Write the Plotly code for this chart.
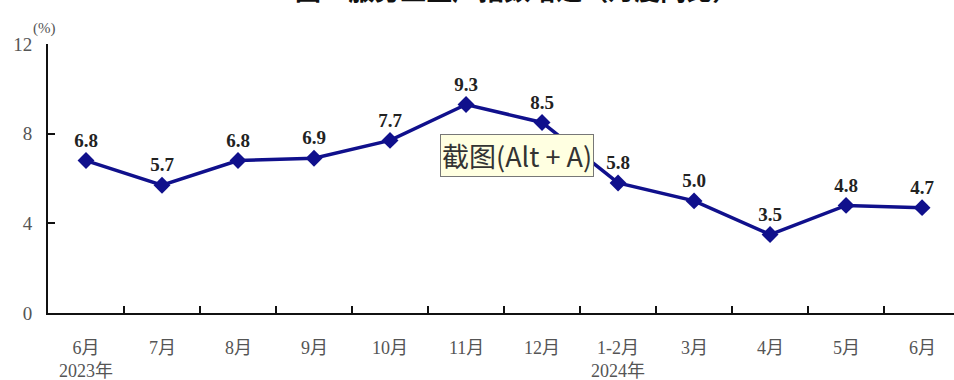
import plotly.graph_objects as go

# Month labels (two-line where a year starts) and YoY growth values (%)
months = ["6月<br>2023年", "7月", "8月", "9月", "10月", "11月", "12月",
          "1-2月<br>2024年", "3月", "4月", "5月", "6月"]
growth = [6.8, 5.7, 6.8, 6.9, 7.7, 9.3, 8.5, 5.8, 5.0, 3.5, 4.8, 4.7]
y_ticks = [0, 4, 8, 12]

W, H = 954, 380
M_L, M_R, M_T, M_B = 48, 0, 44, 67
plot_w = W - M_L - M_R
plot_h = H - M_T - M_B

serif = "Liberation Serif, Noto Sans CJK SC, serif"
navy = "#10108c"
grey = "#555555"

idx = list(range(len(months)))

fig = go.Figure()
fig.add_trace(go.Scatter(
    x=idx, y=growth,
    mode="lines+markers+text",
    line=dict(color=navy, width=3.5),
    marker=dict(symbol="diamond", size=13, color=navy),
    text=[f"<b>{v:.1f}</b>" for v in growth],
    textposition="top center",
    textfont=dict(family=serif, size=19, color="#222222"),
    cliponaxis=False,
    hoverinfo="skip",
))

fig.update_layout(
    width=W, height=H,
    margin=dict(l=M_L, r=M_R, t=M_T, b=M_B),
    paper_bgcolor="white", plot_bgcolor="white",
    showlegend=False,
    xaxis=dict(
        range=[-0.5, 11.42],
        tickmode="array",
        tickvals=[i + 0.5 for i in idx[:-1]],
        ticktext=[""] * (len(idx) - 1),
        ticks="inside", ticklen=7, tickwidth=2, tickcolor="#111",
        showline=True, linecolor="#111", linewidth=2,
        showgrid=False, zeroline=False, fixedrange=True,
    ),
    yaxis=dict(
        range=[0, 12],
        tickmode="array", tickvals=y_ticks,
        ticktext=[str(v) for v in y_ticks],
        ticks="inside", ticklen=7, tickwidth=2, tickcolor="#111",
        showline=True, linecolor="#111", linewidth=2,
        showgrid=False, zeroline=False,
        tickfont=dict(family=serif, size=19, color=grey),
        ticklabelstandoff=10,
    ),
)

# Category labels centred under each month
for i, lab in enumerate(months):
    fig.add_annotation(
        x=i, y=0, xref="x", yref="y",
        text=lab, showarrow=False,
        yanchor="top", yshift=-23,
        font=dict(family=serif, size=18, color=grey),
        align="center",
    )

# Unit label
fig.add_annotation(
    x=(31 - M_L) / plot_w, y=1 + (M_T - 18) / plot_h,
    xref="paper", yref="paper", text="(%)", showarrow=False,
    font=dict(family=serif, size=15, color=grey),
)

# Title (top edge of the page)
fig.add_annotation(
    x=(516 - M_L) / plot_w, y=1 + (M_T - 9) / plot_h,
    xref="paper", yref="paper",
    text="<b>图3  服务业生产指数增速（月度同比）</b>",
    showarrow=False, yanchor="bottom",
    font=dict(family="Noto Sans CJK SC", size=26, color="#111"),
)

# Screenshot-tool hint box
fig.add_annotation(
    x=(517 - M_L) / plot_w, y=(M_T + plot_h - 155) / plot_h,
    xref="paper", yref="paper",
    text="截图(Alt + A)", showarrow=False,
    font=dict(family="Noto Sans CJK SC", size=27, color="#333333"),
    bgcolor="#ffffe1", bordercolor="#777777", borderwidth=1, borderpad=1,
)

fig.write_html("out.html")
